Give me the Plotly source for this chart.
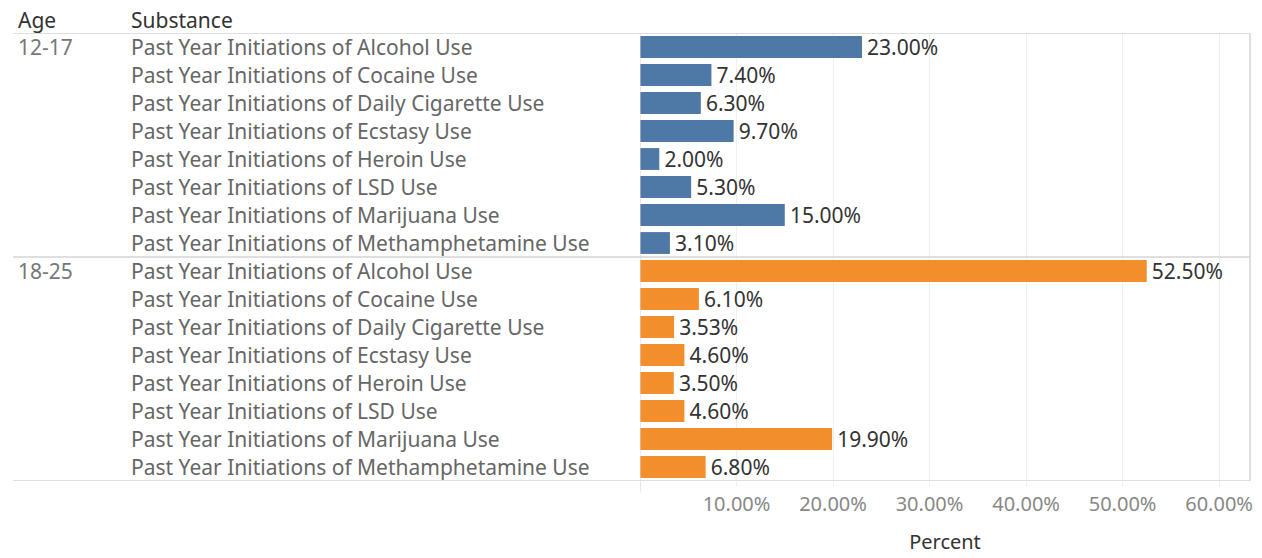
import plotly.graph_objects as go

ages = ["12-17", "18-25"]
substances = [
    "Past Year Initiations of Alcohol Use",
    "Past Year Initiations of Cocaine Use",
    "Past Year Initiations of Daily Cigarette Use",
    "Past Year Initiations of Ecstasy Use",
    "Past Year Initiations of Heroin Use",
    "Past Year Initiations of LSD Use",
    "Past Year Initiations of Marijuana Use",
    "Past Year Initiations of Methamphetamine Use",
]
values_12_17 = [23.00, 7.40, 6.30, 9.70, 2.00, 5.30, 15.00, 3.10]
values_18_25 = [52.50, 6.10, 3.53, 4.60, 3.50, 4.60, 19.90, 6.80]
colors = {"12-17": "#4e79a7", "18-25": "#f28e2b"}
tick_vals = [0, 10, 20, 30, 40, 50, 60]
tick_text = ["", "10.00%", "20.00%", "30.00%", "40.00%", "50.00%", "60.00%"]

# page is offset by the default 8px body margin
OFF = 8
PAGE_W, PAGE_H = 1262, 558
W, H = PAGE_W - OFF, PAGE_H - OFF
plot_left, plot_right, plot_top, plot_bottom = 640, 1253, 33, 485
L = plot_left - OFF
T = plot_top - OFF
R = PAGE_W - plot_right
B = PAGE_H - plot_bottom
pw = plot_right - plot_left
ph = plot_bottom - plot_top
FONT = "Noto Sans"
LBL = 21

fig = go.Figure()
annotations = []
n = len(substances)
for gi, (age, vals) in enumerate([(ages[0], values_12_17), (ages[1], values_18_25)]):
    ys = [gi * n + i for i in range(n)]
    fig.add_trace(go.Bar(
        x=vals, y=ys, orientation="h",
        marker=dict(color=colors[age], line=dict(width=0)),
        width=0.78,
        text=[f"\u200a{v:.2f}%" for v in vals],
        textposition="outside",
        constraintext="none",
        cliponaxis=False,
        textfont=dict(family=FONT, size=21, color="#333333"),
        hoverinfo="skip",
        showlegend=False,
    ))
    annotations.append(dict(
        xref="paper", yref="y", x=(13 - plot_left) / pw, y=ys[0], text=age,
        xanchor="left", yanchor="middle", showarrow=False,
        font=dict(family=FONT, size=LBL, color="#777777"),
    ))
    for y, s in zip(ys, substances):
        annotations.append(dict(
            xref="paper", yref="y", x=(126 - plot_left) / pw, y=y, text=s,
            xanchor="left", yanchor="middle", showarrow=False,
            font=dict(family=FONT, size=LBL, color="#666666"),
        ))

# header
for x, t in [(13, "Age"), (126, "Substance")]:
    annotations.append(dict(
        xref="paper", yref="paper", x=(x - plot_left) / pw, y=1 + (plot_top - 20) / ph,
        text=t, xanchor="left", yanchor="middle", showarrow=False,
        font=dict(family=FONT, size=LBL, color="#333333"),
    ))

line_c = "#d4d4d4"
x_left = (10 - plot_left) / pw
shapes = [
    dict(type="line", xref="paper", yref="y", x0=x_left, x1=1, y0=-0.5, y1=-0.5,
         line=dict(color=line_c, width=1.5)),
    dict(type="line", xref="paper", yref="y", x0=x_left, x1=1, y0=n - 0.5, y1=n - 0.5,
         line=dict(color=line_c, width=1.5)),
    dict(type="line", xref="paper", yref="y", x0=x_left, x1=1, y0=2 * n - 0.5, y1=2 * n - 0.5,
         line=dict(color=line_c, width=1.5)),
    dict(type="line", xref="paper", yref="paper", x0=1, x1=1, y0=0, y1=1,
         line=dict(color=line_c, width=1.5)),
    dict(type="line", xref="x", yref="paper", x0=0, x1=0, y0=-12 / ph, y1=1,
         line=dict(color="#d9d9d9", width=1)),
]

fig.update_layout(
    width=W, height=H,
    margin=dict(l=L, r=R, t=T, b=B, pad=0),
    plot_bgcolor="white", paper_bgcolor="white",
    annotations=annotations, shapes=shapes,
    xaxis=dict(
        range=[0, 63.2], tickvals=tick_vals, ticktext=tick_text,
        showgrid=True, gridcolor="#efefef", gridwidth=1,
        zeroline=False, showline=False,
        ticks="outside", ticklen=5, tickcolor="#efefef", tickwidth=1,
        tickfont=dict(family=FONT, size=20, color="#888888"),
        title=dict(text="Percent", font=dict(family=FONT, size=20, color="#333333"), standoff=18),
    ),
    yaxis=dict(
        range=[2 * n - 0.5, -0.5], showticklabels=False, showgrid=False,
        zeroline=False, showline=False, ticks="",
    ),
)

fig.write_html("out.html")
